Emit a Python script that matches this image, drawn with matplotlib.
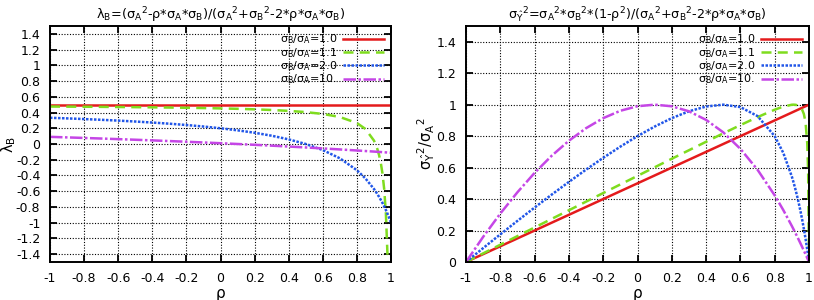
import matplotlib
matplotlib.use('Agg')
import matplotlib.pyplot as plt
from matplotlib.ticker import FuncFormatter

plt.rcParams['font.family'] = ['DejaVu Sans']
plt.rcParams['mathtext.default'] = 'regular'

# ---- data ----
rho = [-1, -0.9, -0.8, -0.7, -0.6, -0.5, -0.4, -0.3, -0.2, -0.1, 0, 0.1, 0.2,
       0.3, 0.4, 0.5, 0.6, 0.7, 0.8, 0.85, 0.9, 0.91, 0.92, 0.93, 0.94, 0.95,
       0.96, 0.97, 0.98, 0.99, 0.995, 1.0]

ratios = ['1.0', '1.1', '2.0', '10.']

# left panel: lambda_B
lam_r1 = [0.5] * 32
lam_r11 = [0.4762, 0.4749, 0.4736, 0.4720, 0.4703, 0.4683, 0.4660, 0.4634,
           0.4604, 0.4568, 0.4525, 0.4472, 0.4407, 0.4323, 0.4211, 0.4054,
           0.3820, 0.3433, 0.2667, 0.1912, 0.0435, -0.0048, -0.0645, -0.1402,
           -0.2394, -0.375, -0.5714, -0.8816, -1.4444, -2.78, -4.5, -10.0]
lam_r2 = [0.3333, 0.3256, 0.3171, 0.3077, 0.2973, 0.2857, 0.2727, 0.2581,
          0.2414, 0.2222, 0.2, 0.1739, 0.1429, 0.1053, 0.0588, 0.0, -0.0769,
          -0.1818, -0.3333, -0.4375, -0.5714, -0.6029, -0.6364, -0.6719,
          -0.7097, -0.75, -0.7931, -0.8393, -0.8889, -0.9423, -0.9706, -1.0]
lam_r10 = [0.0909, 0.0840, 0.0769, 0.0696, 0.0619, 0.0541, 0.0459, 0.0374,
           0.0286, 0.0194, 0.0099, 0.0, -0.0103, -0.0211, -0.0323, -0.0440,
           -0.0562, -0.0690, -0.0824, -0.0893, -0.0964, -0.0978, -0.0993,
           -0.1007, -0.1022, -0.1037, -0.1051, -0.1066, -0.1081, -0.1096,
           -0.1104, -0.1111]

# right panel: sigma_Y^2 / sigma_A^2
var_r1 = [0, 0.05, 0.1, 0.15, 0.2, 0.25, 0.3, 0.35, 0.4, 0.45, 0.5, 0.55, 0.6,
          0.65, 0.7, 0.75, 0.8, 0.85, 0.9, 0.925, 0.95, 0.955, 0.96, 0.965,
          0.97, 0.975, 0.98, 0.985, 0.99, 0.995, 0.9975, 1.0]
var_r11 = [0, 0.0549, 0.1097, 0.1646, 0.2194, 0.2742, 0.3289, 0.3837, 0.4383,
           0.4930, 0.5475, 0.6020, 0.6563, 0.7104, 0.7642, 0.8176, 0.8701,
           0.9210, 0.9680, 0.9876, 0.9996, 1.0, 0.9992, 0.9968, 0.9918,
           0.9831, 0.9680, 0.9409, 0.8873, 0.7525, 0.5747, 0]
var_r2 = [0, 0.0884, 0.1756, 0.2615, 0.3459, 0.4286, 0.5091, 0.5871, 0.6621,
          0.7333, 0.8, 0.8609, 0.9143, 0.9579, 0.9882, 1.0, 0.9846, 0.9273,
          0.8, 0.6938, 0.5429, 0.5056, 0.4655, 0.4222, 0.3755, 0.325, 0.2703,
          0.2111, 0.1467, 0.0765, 0.0391, 0]
var_r10 = [0, 0.1597, 0.3077, 0.4435, 0.5664, 0.6757, 0.7706, 0.8505, 0.9143,
           0.9612, 0.9901, 1.0, 0.9897, 0.9579, 0.9032, 0.8242, 0.7191, 0.5862,
           0.4235, 0.3304, 0.2289, 0.2076, 0.1860, 0.1640, 0.1416, 0.1189,
           0.0958, 0.0724, 0.0486, 0.0245, 0.0123, 0]

# gnuplot-ish line styles
styles = [
    dict(color='#e41a1c', ls='-', lw=1.8),
    dict(color='#7fdc1e', ls=(0, (4, 2.5)), lw=1.8),
    dict(color='#2156e8', ls=(0, (1, 0.6)), lw=1.8),
    dict(color='#c546e6', ls=(0, (5, 1, 1, 1)), lw=1.8),
]

fig = plt.figure(figsize=(8.14, 3.0), dpi=100)
ax1 = fig.add_axes([50 / 814, 1 - 262 / 300, 341 / 814, 236 / 300])
ax2 = fig.add_axes([466 / 814, 1 - 262 / 300, 343 / 814, 236 / 300])


def fmt(v, pos):
    s = '%g' % round(v, 2)
    return '0' if s == '-0' else s


def style_axes(ax, ylim, yticks):
    ax.set_xlim(-1, 1)
    ax.set_ylim(*ylim)
    ax.set_xticks([-1 + 0.2 * i for i in range(11)])
    ax.set_yticks(yticks)
    ax.xaxis.set_major_formatter(FuncFormatter(fmt))
    ax.yaxis.set_major_formatter(FuncFormatter(fmt))
    ax.tick_params(direction='in', top=True, right=True, length=5, width=1.3,
                   labelsize=9, pad=7)
    ax.grid(True, color='black', ls=(0, (1, 1.5)), lw=0.8)
    ax.set_axisbelow(True)
    for sp in ax.spines.values():
        sp.set_linewidth(1.4)
    ax.set_xlabel('ρ', fontsize=11, labelpad=1)


left_series = [lam_r1, lam_r11, lam_r2, lam_r10]
right_series = [var_r1, var_r11, var_r2, var_r10]

for ys, st, r in zip(left_series, styles, ratios):
    ax1.plot(rho, ys, label='σ$_B$/σ$_A$=' + r, **st)
for ys, st, r in zip(right_series, styles, ratios):
    ax2.plot(rho, ys, label='σ$_B$/σ$_A$=' + r, **st)

style_axes(ax1, (-1.5, 1.5), [-1.4 + 0.2 * i for i in range(15)])
style_axes(ax2, (0, 1.5), [0.2 * i for i in range(8)])

ax1.set_title('λ$_B$=(σ$_A$$^2$-ρ*σ$_A$*σ$_B$)/(σ$_A$$^2$+σ$_B$$^2$-2*ρ*σ$_A$*σ$_B$)',
              fontsize=9.3, pad=5)
ax2.set_title('σ$_{\\hat{Y}}$$^2$=σ$_A$$^2$*σ$_B$$^2$*(1-ρ$^2$)/(σ$_A$$^2$+σ$_B$$^2$-2*ρ*σ$_A$*σ$_B$)',
              fontsize=9.2, pad=5)
ax1.set_ylabel('λ$_B$', fontsize=10.5)
ax2.set_ylabel('σ$_{\\hat{Y}}$$^2$/σ$_A$$^2$', fontsize=10.5)
ax1.yaxis.set_label_coords(-0.095, 0.5)
ax2.yaxis.set_label_coords(-0.085, 0.5)

for ax in (ax1, ax2):
    ax.legend(loc='upper right', frameon=False, markerfirst=False, fontsize=8,
              handlelength=3.7, labelspacing=-0.05, borderaxespad=0.3,
              handletextpad=0.5, borderpad=0.3)

fig.savefig('out.png', dpi=100, facecolor='white')
